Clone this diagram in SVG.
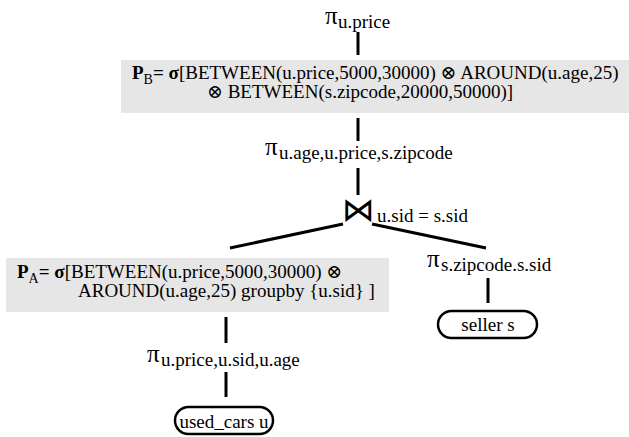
<svg xmlns="http://www.w3.org/2000/svg" width="629" height="437" viewBox="0 0 629 437">
  <style>
    text { font-family: "Liberation Serif", "DejaVu Serif", serif; font-size: 19px; fill: #000; }
    .pi { font-size: 25px; }
    .sub { font-size: 19px; }
    .idx { font-size: 14px; }
    .b { font-weight: bold; }
    .mid { text-anchor: middle; }
    .op { font-family: "DejaVu Sans", sans-serif; font-size: 33px; }
    .pred { fill: #e6e6e6; stroke: none; }
    .rel { fill: #fff; stroke: #000; stroke-width: 2.5; }
    .edge { stroke: #000; stroke-width: 3; fill: none; }
  </style>

  <!-- edges of the query plan -->
  <g id="connectors">
    <line class="edge" x1="358" y1="32" x2="358" y2="55"/>
    <line class="edge" x1="358" y1="118" x2="358" y2="141"/>
    <line class="edge" x1="358" y1="168" x2="358" y2="195"/>
    <line class="edge" x1="343" y1="224" x2="230" y2="248"/>
    <line class="edge" x1="372" y1="224" x2="486" y2="248"/>
    <line class="edge" x1="488" y1="278" x2="488" y2="303"/>
    <line class="edge" x1="226" y1="317" x2="226" y2="343"/>
    <line class="edge" x1="226" y1="372" x2="226" y2="397"/>
  </g>

  <!-- final projection -->
  <g id="proj-top">
    <text class="pi" x="325" y="24">π</text>
    <text class="sub" x="338" y="28">u.price</text>
  </g>

  <!-- rank predicate P_B -->
  <g id="pred-b">
    <rect class="pred" x="121" y="60" width="512" height="53"/>
    <text x="132" y="79"><tspan class="b">P</tspan><tspan class="idx" dy="5">B</tspan><tspan class="b" dy="-5">= σ</tspan>[BETWEEN(u.price,5000,30000) ⊗ AROUND(u.age,25)</text>
    <text x="207" y="98">⊗ BETWEEN(s.zipcode,20000,50000)]</text>
  </g>

  <!-- projection above the join -->
  <g id="proj-join">
    <text class="pi" x="265" y="155">π</text>
    <text class="sub" x="279" y="159">u.age,u.price,s.zipcode</text>
  </g>

  <!-- join -->
  <g id="join">
    <text class="op" x="342" y="221">⋈</text>
    <text x="377" y="222">u.sid = s.sid</text>
  </g>

  <!-- rank predicate P_A -->
  <g id="pred-a">
    <rect class="pred" x="6" y="258" width="383" height="54"/>
    <text x="17" y="278"><tspan class="b">P</tspan><tspan class="idx" dy="5">A</tspan><tspan class="b" dy="-5">= σ</tspan>[BETWEEN(u.price,5000,30000) ⊗</text>
    <text x="78" y="297">AROUND(u.age,25) groupby {u.sid} ]</text>
  </g>

  <!-- projection on seller -->
  <g id="proj-seller">
    <text class="pi" x="427" y="267">π</text>
    <text class="sub" x="441" y="271">s.zipcode.s.sid</text>
  </g>

  <!-- projection on used cars -->
  <g id="proj-cars">
    <text class="pi" x="147" y="362">π</text>
    <text class="sub" x="161" y="366">u.price,u.sid,u.age</text>
  </g>

  <!-- base relations -->
  <g id="seller">
    <rect class="rel" x="438" y="311" width="99" height="27" rx="13.5"/>
    <text class="mid" x="488" y="331">seller s</text>
  </g>
  <g id="used-cars">
    <rect class="rel" x="175" y="407" width="98" height="27" rx="13.5"/>
    <text class="mid" x="224" y="428">used_cars u</text>
  </g>
</svg>
